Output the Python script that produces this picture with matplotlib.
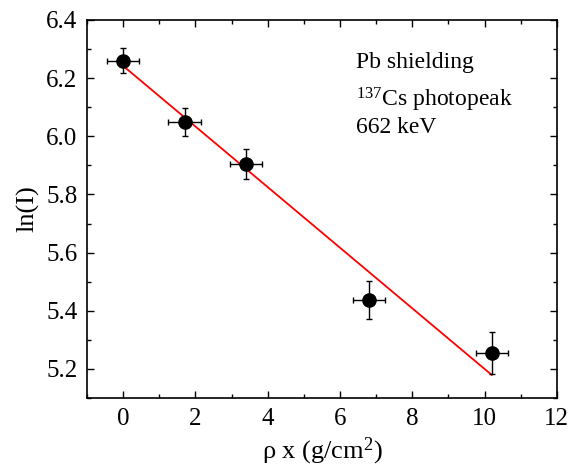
import numpy as np
import matplotlib
matplotlib.use("Agg")
import matplotlib.pyplot as plt
from matplotlib.ticker import MultipleLocator

plt.rcParams['font.family'] = ['Liberation Serif', 'DejaVu Serif']
plt.rcParams['mathtext.fontset'] = 'custom'
plt.rcParams['mathtext.rm'] = 'Liberation Serif'
plt.rcParams['mathtext.it'] = 'Liberation Serif:italic'

# areal density of lead absorber and measured log counts
rho_x = [0.0, 1.7, 3.4, 6.8, 10.2]
ln_i = [6.26, 6.048, 5.905, 5.437, 5.254]
x_err = [0.45, 0.45, 0.45, 0.45, 0.45]
y_err = [0.043, 0.048, 0.053, 0.066, 0.073]

# linear fit ln(I) = a + b * rho_x
fit_a = 6.242
fit_b = -0.1042

fig = plt.figure(figsize=(5.69, 4.69), dpi=100)
ax = fig.add_axes([0.153, 0.1514, 0.8256, 0.806])

xf = np.array([rho_x[0], rho_x[-1]])
ax.plot(xf, fit_a + fit_b * xf, color='red', lw=1.3, zorder=2)
ax.errorbar(rho_x, ln_i, xerr=x_err, yerr=y_err, fmt='o', color='black',
            ms=9.5, elinewidth=1.0, capsize=2.5, capthick=1.0, zorder=3)

ax.set_xlim(-1, 12)
ax.set_ylim(5.1, 6.4)
ax.xaxis.set_major_locator(MultipleLocator(2))
ax.xaxis.set_minor_locator(MultipleLocator(1))
ax.yaxis.set_major_locator(MultipleLocator(0.2))
ax.yaxis.set_minor_locator(MultipleLocator(0.1))
ax.yaxis.set_major_formatter(plt.FormatStrFormatter('%.1f'))
ax.tick_params(which='both', direction='in', top=True, right=True, labelsize=18, width=1.0)
ax.tick_params(which='major', length=5, pad=7)
ax.tick_params(which='minor', length=3)
for s in ax.spines.values():
    s.set_linewidth(1.2)

ax.set_xlabel(r'ρ x (g/cm$^2$)', fontsize=19, labelpad=4)
ax.set_ylabel('ln(I)', fontsize=19, labelpad=5)

ax.text(6.43, 6.253, 'Pb shielding', fontsize=17, va='center')
ax.text(6.43, 6.126, r'$^{137}$Cs photopeak', fontsize=17, va='center')
ax.text(6.43, 6.03, '662 keV', fontsize=17, va='center')

fig.savefig('out.png', dpi=100)
